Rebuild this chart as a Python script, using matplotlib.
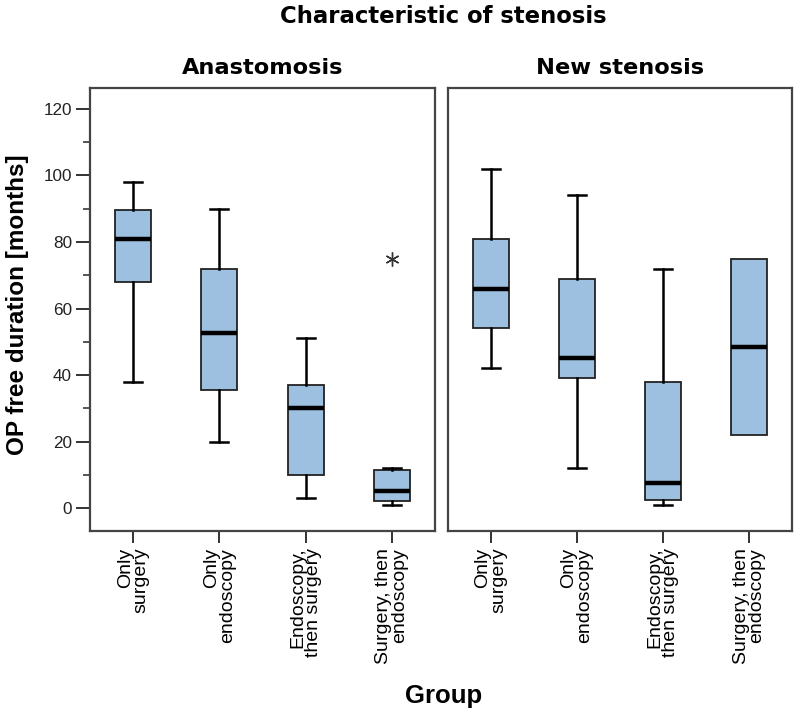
import numpy as np
import matplotlib
matplotlib.use("Agg")
import matplotlib.pyplot as plt

plt.rcParams['font.family'] = ['Liberation Sans', 'DejaVu Sans']

# Groups on the x axis (same for both panels)
group_labels = ["Only\nsurgery", "Only\nendoscopy", "Endoscopy,\nthen surgery", "Surgery, then\nendoscopy"]
panel_titles = ["Anastomosis", "New stenosis"]

# Box statistics, one list per quantity, one entry per group
anast_whislo = [38, 20, 3, 1]
anast_q1 = [68, 35.5, 10, 2]
anast_med = [81, 52.5, 30, 5]
anast_q3 = [89.5, 72, 37, 11.5]
anast_whishi = [98, 90, 51, 12]
anast_fliers = [[], [], [], [75]]

new_whislo = [42, 12, 1, 22]
new_q1 = [54, 39, 2.5, 22]
new_med = [66, 45, 7.5, 48.5]
new_q3 = [81, 69, 38, 75]
new_whishi = [102, 94, 72, 75]
new_fliers = [[], [], [], []]

box_color = '#9dbfe0'


def make_stats(lo, q1, med, q3, hi, fliers):
    stats = []
    for i in range(len(lo)):
        stats.append(dict(whislo=lo[i], q1=q1[i], med=med[i], q3=q3[i],
                          whishi=hi[i], fliers=fliers[i]))
    return stats


panels = [
    make_stats(anast_whislo, anast_q1, anast_med, anast_q3, anast_whishi, anast_fliers),
    make_stats(new_whislo, new_q1, new_med, new_q3, new_whishi, new_fliers),
]

fig = plt.figure(figsize=(8, 7.15), dpi=100)
ax_left = fig.add_axes([0.1125, 0.2573, 0.43125, 0.6196])
ax_right = fig.add_axes([0.56, 0.2573, 0.43, 0.6196])
axes = [ax_left, ax_right]

positions = np.arange(1, len(group_labels) + 1)

for ax, stats, title in zip(axes, panels, panel_titles):
    parts = ax.bxp(stats, positions=positions, widths=0.415, patch_artist=True,
                   showfliers=True,
                   boxprops=dict(facecolor=box_color, edgecolor='#222222', linewidth=1.3),
                   medianprops=dict(color='black', linewidth=3.2),
                   whiskerprops=dict(color='black', linewidth=1.8),
                   capprops=dict(color='black', linewidth=1.8),
                   flierprops=dict(marker=(6, 2, 0), markersize=10, markeredgecolor='#333333',
                                   markeredgewidth=1.0, linestyle='none'))
    # caps are half the box width; no cap when the whisker has zero length
    for i, s in enumerate(stats):
        for cap, end, edge in ((parts['caps'][2 * i], s['whislo'], s['q1']),
                               (parts['caps'][2 * i + 1], s['whishi'], s['q3'])):
            c = positions[i]
            cap.set_xdata([c - 0.104, c + 0.104])
            if end == edge:
                cap.set_visible(False)
    ax.set_xlim(0.5, 4.5)
    ax.set_ylim(-6.9, 126.3)
    ax.set_xticks(positions)
    ax.set_xticklabels(group_labels, rotation=90, fontsize=14, multialignment='right',
                       linespacing=0.92)
    ax.tick_params(axis='x', direction='out', length=8.6, width=1.4, pad=3.5, color='#333333')
    for sp in ax.spines.values():
        sp.set_color('#444444')
        sp.set_linewidth(1.6)
    ax.text(0.5, 1.0316, title, transform=ax.transAxes, ha='center', va='baseline',
            fontsize=16.2, fontweight='bold', family='DejaVu Sans')

# y axis only on the left panel
ax_left.set_yticks(np.arange(0, 121, 20))
ax_left.set_yticks(np.arange(10, 121, 20), minor=True)
ax_left.tick_params(axis='y', which='major', direction='out', length=10, width=1.4,
                    pad=3, labelsize=12.3, color='#333333', labelcolor='#222222')
ax_left.tick_params(axis='y', which='minor', direction='out', length=5, width=1.4,
                    color='#555555')
ax_right.set_yticks([])

fig.text(0.554, 0.9674, "Characteristic of stenosis", ha='center', va='baseline',
         fontsize=16.4, fontweight='bold', family='DejaVu Sans')
fig.text(0.0225, 0.574, "OP free duration [months]", rotation=90, ha='center', va='center',
         fontsize=17.5, fontweight='bold')
fig.text(0.554, 0.0164, "Group", ha='center', va='baseline', fontsize=18.5, fontweight='bold')

fig.savefig("out.png", dpi=100)
